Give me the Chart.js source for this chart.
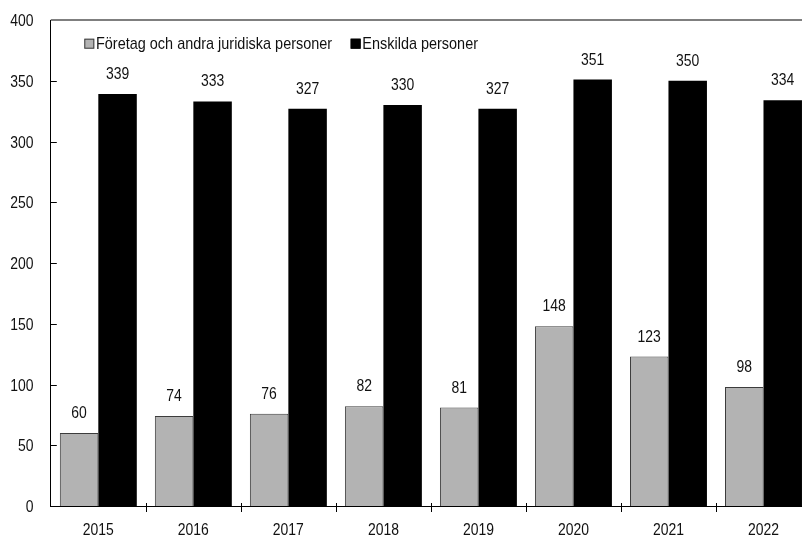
<!DOCTYPE html>
<html>
<head>
<meta charset="utf-8">
<script src="https://cdn.jsdelivr.net/npm/chart.js@4/dist/chart.umd.min.js"></script>
<style>
  html, body { margin: 0; padding: 0; background: #fff; overflow: hidden; }
  #wrap { position: relative; width: 811px; height: 537px; }
</style>
</head>
<body>
<div id="wrap"><canvas id="chart" width="811" height="537" style="width:811px;height:537px"></canvas></div>
<script>
// data
const years = ['2015', '2016', '2017', '2018', '2019', '2020', '2021', '2022'];
const foretag = [60, 74, 76, 82, 81, 148, 123, 98];
const enskilda = [339, 333, 327, 330, 327, 351, 350, 334];
const seriesNames = ['Företag och andra juridiska personer', 'Enskilda personer'];
const yTicks = [0, 50, 100, 150, 200, 250, 300, 350, 400];

// narrow look: Liberation Sans squeezed horizontally
const FONT = '17px "Liberation Sans", Arial, sans-serif';
const SQUEEZE = 0.82;
const TXT = '#111';

function drawText(ctx, str, x, y, align, sx) {
    ctx.save();
    ctx.translate(x, y);
    ctx.scale(sx, 1);
    ctx.font = FONT;
    ctx.fillStyle = TXT;
    ctx.textAlign = align;
    ctx.textBaseline = 'alphabetic';
    ctx.fillText(str, 0, 0);
    ctx.restore();
}

function textWidth(ctx, str, sx) {
    ctx.save();
    ctx.font = FONT;
    const w = ctx.measureText(str).width * sx;
    ctx.restore();
    return w;
}

// axis labels, ticks, value labels, top line, legend inside plot
const extrasPlugin = {
    id: 'extras',
    afterDraw(chart) {
        const ctx = chart.ctx;
        const area = chart.chartArea;
        const xs = chart.scales.x;
        const ys = chart.scales.y;
        ctx.save();

        // top border line
        ctx.strokeStyle = '#555';
        ctx.lineWidth = 1.5;
        ctx.beginPath();
        ctx.moveTo(area.left, area.top);
        ctx.lineTo(chart.width, area.top);
        ctx.stroke();

        // y ticks (inward) + labels
        ctx.strokeStyle = '#000';
        ctx.lineWidth = 1;
        ys.ticks.forEach(t => {
            const py = ys.getPixelForValue(t.value);
            if (t.value !== 0 && t.value !== 400) {
                const ly = Math.round(py) + 0.5;
                ctx.beginPath();
                ctx.moveTo(area.left, ly);
                ctx.lineTo(area.left + 6, ly);
                ctx.stroke();
            }
            drawText(ctx, String(t.value), 33.5, py + 6, 'right', SQUEEZE);
        });

        // x ticks between categories, crossing the axis
        const n = chart.data.labels.length;
        for (let i = 1; i < n; i++) {
            const px = Math.round((xs.getPixelForTick(i - 1) + xs.getPixelForTick(i)) / 2) + 0.5;
            ctx.beginPath();
            ctx.moveTo(px, area.bottom - 3);
            ctx.lineTo(px, area.bottom + 6);
            ctx.stroke();
        }
        chart.data.labels.forEach((lab, i) => {
            drawText(ctx, lab, xs.getPixelForTick(i), area.bottom + 29, 'center', SQUEEZE);
        });

        // value labels over bars
        chart.data.datasets.forEach((ds, i) => {
            const meta = chart.getDatasetMeta(i);
            meta.data.forEach((bar, j) => {
                drawText(ctx, String(ds.data[j]), bar.x, bar.y - 15, 'center', SQUEEZE);
            });
        });

        // legend
        let lx = area.left + 33.5;
        const base = 48.7;
        const box = 10;
        const legSx = 0.85;
        chart.data.datasets.forEach(ds => {
            ctx.fillStyle = ds.backgroundColor;
            ctx.fillRect(lx, base - box, box, box);
            ctx.strokeStyle = ds.borderColor;
            ctx.lineWidth = 1;
            ctx.strokeRect(lx + 0.5, base - box + 0.5, box - 1, box - 1);
            drawText(ctx, ds.label, lx + box + 1.7, base, 'left', legSx);
            lx += box + 1.7 + textWidth(ctx, ds.label, legSx) + 18.5;
        });

        ctx.restore();
    }
};

const config = {
    type: 'bar',
    data: {
        labels: years,
        datasets: [
            {
                label: seriesNames[0],
                data: foretag,
                backgroundColor: '#b3b3b3',
                borderColor: '#3c3c3c',
                borderWidth: 1
            },
            {
                label: seriesNames[1],
                data: enskilda,
                backgroundColor: '#000000',
                borderColor: '#000000',
                borderWidth: 0
            }
        ]
    },
    options: {
        responsive: false,
        animation: false,
        categoryPercentage: 0.81,
        barPercentage: 1.0,
        layout: { padding: { top: 20, left: 0, right: 0, bottom: 0 } },
        plugins: {
            legend: { display: false },
            tooltip: { enabled: false }
        },
        scales: {
            x: {
                offset: true,
                afterFit(scale) {
                    scale.height = 31;
                },
                grid: { display: false, drawTicks: false },
                border: { color: '#000', width: 1 },
                ticks: { display: false }
            },
            y: {
                min: 0,
                max: 400,
                afterBuildTicks(scale) {
                    scale.ticks = yTicks.map(v => ({ value: v }));
                },
                afterFit(scale) {
                    scale.width = 50.8;
                },
                grid: { display: false, drawTicks: false },
                border: { color: '#000', width: 1 },
                ticks: { display: false }
            }
        }
    },
    plugins: [extrasPlugin]
};

new Chart(document.getElementById('chart').getContext('2d'), config);
</script>
</body>
</html>
